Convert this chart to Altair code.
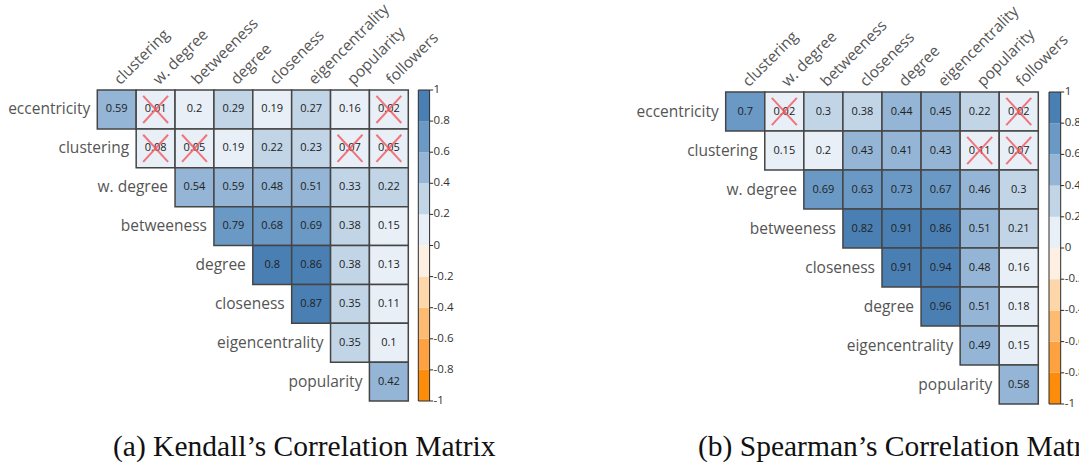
import altair as alt
import pandas as pd

# ---- Kendall's tau (upper triangle, row r starts at column r) ----
k_rows = ["eccentricity", "clustering", "w. degree", "betweeness", "degree",
          "closeness", "eigencentrality", "popularity"]
k_cols = ["clustering", "w. degree", "betweeness", "degree", "closeness",
          "eigencentrality", "popularity", "followers"]
k_vals = [
    [0.59, 0.01, 0.2, 0.29, 0.19, 0.27, 0.16, 0.02],
    [0.08, 0.05, 0.19, 0.22, 0.23, 0.07, 0.05],
    [0.54, 0.59, 0.48, 0.51, 0.33, 0.22],
    [0.79, 0.68, 0.69, 0.38, 0.15],
    [0.8, 0.86, 0.38, 0.13],
    [0.87, 0.35, 0.11],
    [0.35, 0.1],
    [0.42],
]
# (row, column) pairs that are not significant
k_insig = [(0, 1), (0, 7), (1, 1), (1, 2), (1, 6), (1, 7)]

# ---- Spearman's rho ----
s_rows = ["eccentricity", "clustering", "w. degree", "betweeness", "closeness",
          "degree", "eigencentrality", "popularity"]
s_cols = ["clustering", "w. degree", "betweeness", "closeness", "degree",
          "eigencentrality", "popularity", "followers"]
s_vals = [
    [0.7, 0.02, 0.3, 0.38, 0.44, 0.45, 0.22, 0.02],
    [0.15, 0.2, 0.43, 0.41, 0.43, 0.11, 0.07],
    [0.69, 0.63, 0.73, 0.67, 0.46, 0.3],
    [0.82, 0.91, 0.86, 0.51, 0.21],
    [0.91, 0.94, 0.48, 0.16],
    [0.96, 0.51, 0.18],
    [0.49, 0.15],
    [0.58],
]
s_insig = [(0, 1), (0, 7), (1, 6), (1, 7)]

# ---- colour bar ----
bar_ticks = [1, 0.8, 0.6, 0.4, 0.2, 0, -0.2, -0.4, -0.6, -0.8, -1]
bar_tick_labels = ["1", "0.8", "0.6", "0.4", "0.2", "0", "-0.2", "-0.4", "-0.6", "-0.8", "-1"]
band_colors = ["#fd8c0a", "#fda141", "#fdbb72", "#fdd6a9", "#fdf0e2",
               "#e8eff6", "#c1d5e7", "#94b5d5", "#6b99c5", "#4a7fb3"]
# band edges; a value printed as 0.2 sits in the lower band
band_edges = [-0.8, -0.6, -0.4, -0.2, 0, 0.2001, 0.4, 0.6, 0.8]

color_scale = alt.Scale(type="threshold", domain=band_edges, range=band_colors)

LABEL_FONT = "Open Sans"


def matrix_panel(rows, cols, vals, insig, xr, yr, bar_x):
    n = len(cols)
    cells = []
    for r, row in enumerate(vals):
        for k, v in enumerate(row):
            c = r + k
            cells.append({"r": r, "r2": r + 1, "c": c, "c2": c + 1,
                          "cm": c + 0.5, "rm": r + 0.5, "v": v, "label": f"{v:g}"})
    cells = pd.DataFrame(cells)

    rlab = pd.DataFrame({"name": rows, "x": list(range(n)),
                         "y": [i + 0.5 for i in range(n)]})
    clab = pd.DataFrame({"name": cols, "x": [i + 0.5 for i in range(n)],
                         "y": [0] * n})

    crosses = []
    for (r, c) in insig:
        crosses.append({"x": c + 0.18, "x2": c + 0.82, "y": r + 0.15, "y2": r + 0.85})
        crosses.append({"x": c + 0.18, "x2": c + 0.82, "y": r + 0.85, "y2": r + 0.15})
    crosses = pd.DataFrame(crosses)

    xs = alt.Scale(domain=[0, n], range=xr, nice=False, zero=False)
    ys = alt.Scale(domain=[0, n], range=yr, nice=False, zero=False)

    rects = alt.Chart(cells).mark_rect(stroke="#454545", strokeWidth=1.5).encode(
        x=alt.X("c:Q", scale=xs, axis=None), x2="c2:Q",
        y=alt.Y("r:Q", scale=ys, axis=None), y2="r2:Q",
        color=alt.Color("v:Q", scale=color_scale, legend=None),
    )
    values = alt.Chart(cells).mark_text(font=LABEL_FONT, fontSize=11, color="#222222").encode(
        x=alt.X("cm:Q", scale=xs, axis=None),
        y=alt.Y("rm:Q", scale=ys, axis=None),
        text="label:N",
    )
    xmarks = alt.Chart(crosses).mark_rule(color="#f2555c", opacity=0.8, strokeWidth=2).encode(
        x=alt.X("x:Q", scale=xs, axis=None), x2="x2:Q",
        y=alt.Y("y:Q", scale=ys, axis=None), y2="y2:Q",
    )
    row_labels = alt.Chart(rlab).mark_text(
        font=LABEL_FONT, fontSize=15.5, color="#555555", align="right", baseline="middle", xOffset=-7
    ).encode(
        x=alt.X("x:Q", scale=xs, axis=None),
        y=alt.Y("y:Q", scale=ys, axis=None),
        text="name:N",
    )
    col_labels = alt.Chart(clab).mark_text(
        font=LABEL_FONT, fontSize=15.5, color="#555555", align="left", baseline="middle",
        angle=315, xOffset=0, yOffset=-8
    ).encode(
        x=alt.X("x:Q", scale=xs, axis=None),
        y=alt.Y("y:Q", scale=ys, axis=None),
        text="name:N",
    )
    grid = alt.layer(rects, values, xmarks, row_labels, col_labels)

    # colour bar on its own value scale
    bands = pd.DataFrame({"lo": [-1 + 0.2 * i for i in range(10)],
                          "hi": [-0.8 + 0.2 * i for i in range(10)],
                          "mid": [-0.9 + 0.2 * i for i in range(10)]})
    ticks = pd.DataFrame({"t": bar_ticks, "label": bar_tick_labels})
    frame = pd.DataFrame({"lo": [-1], "hi": [1]})
    vs = alt.Scale(domain=[-1, 1], range=[yr[1], yr[0]], nice=False, zero=False)

    bar = alt.Chart(bands).mark_rect().encode(
        x=alt.value(bar_x[0]), x2=alt.value(bar_x[1]),
        y=alt.Y("lo:Q", scale=vs, axis=None), y2="hi:Q",
        color=alt.Color("mid:Q", scale=color_scale, legend=None),
    )
    border = alt.Chart(frame).mark_rect(fill=None, stroke="#2b2b2b", strokeWidth=1).encode(
        x=alt.value(bar_x[0]), x2=alt.value(bar_x[1]),
        y=alt.Y("lo:Q", scale=vs, axis=None), y2="hi:Q",
    )
    tick_marks = alt.Chart(ticks).mark_rule(color="#2b2b2b", strokeWidth=1).encode(
        x=alt.value(bar_x[1]), x2=alt.value(bar_x[1] + 3.5),
        y=alt.Y("t:Q", scale=vs, axis=None),
    )
    tick_text = alt.Chart(ticks).mark_text(
        font=LABEL_FONT, fontSize=11.5, color="#333333", align="left", baseline="middle"
    ).encode(
        x=alt.value(bar_x[1] + 4),
        y=alt.Y("t:Q", scale=vs, axis=None),
        text="label:N",
    )
    colorbar = alt.layer(bar, border, tick_marks, tick_text)
    return grid, colorbar


k_grid, k_bar = matrix_panel(k_rows, k_cols, k_vals, k_insig,
                             [97.3, 408.3], [90, 401], (418.3, 429.6))
s_grid, s_bar = matrix_panel(s_rows, s_cols, s_vals, s_insig,
                             [725.7, 1038.3], [92, 404], (1049, 1060.7))

captions = ["(a) Kendall\u2019s Correlation Matrix", "(b) Spearman\u2019s Correlation Matrix"]
cap_a = alt.Chart(pd.DataFrame({"t": [captions[0]]})).mark_text(
    font="Liberation Serif", fontSize=29.5, color="#111111", align="left", baseline="middle"
).encode(x=alt.value(113), y=alt.value(447), text="t:N")
cap_b = alt.Chart(pd.DataFrame({"t": [captions[1]]})).mark_text(
    font="Liberation Serif", fontSize=29.5, color="#111111", align="left", baseline="middle"
).encode(x=alt.value(698), y=alt.value(447), text="t:N")

chart = alt.layer(k_grid, k_bar, s_grid, s_bar, cap_a, cap_b).resolve_scale(
    x="independent", y="independent"
).properties(
    width=1079, height=466, padding=0,
    autosize=alt.AutoSizeParams(type="none"),
    background="white",
).configure_view(strokeWidth=0)

chart.save("out.html", embed_options={"renderer": "svg", "actions": False})
